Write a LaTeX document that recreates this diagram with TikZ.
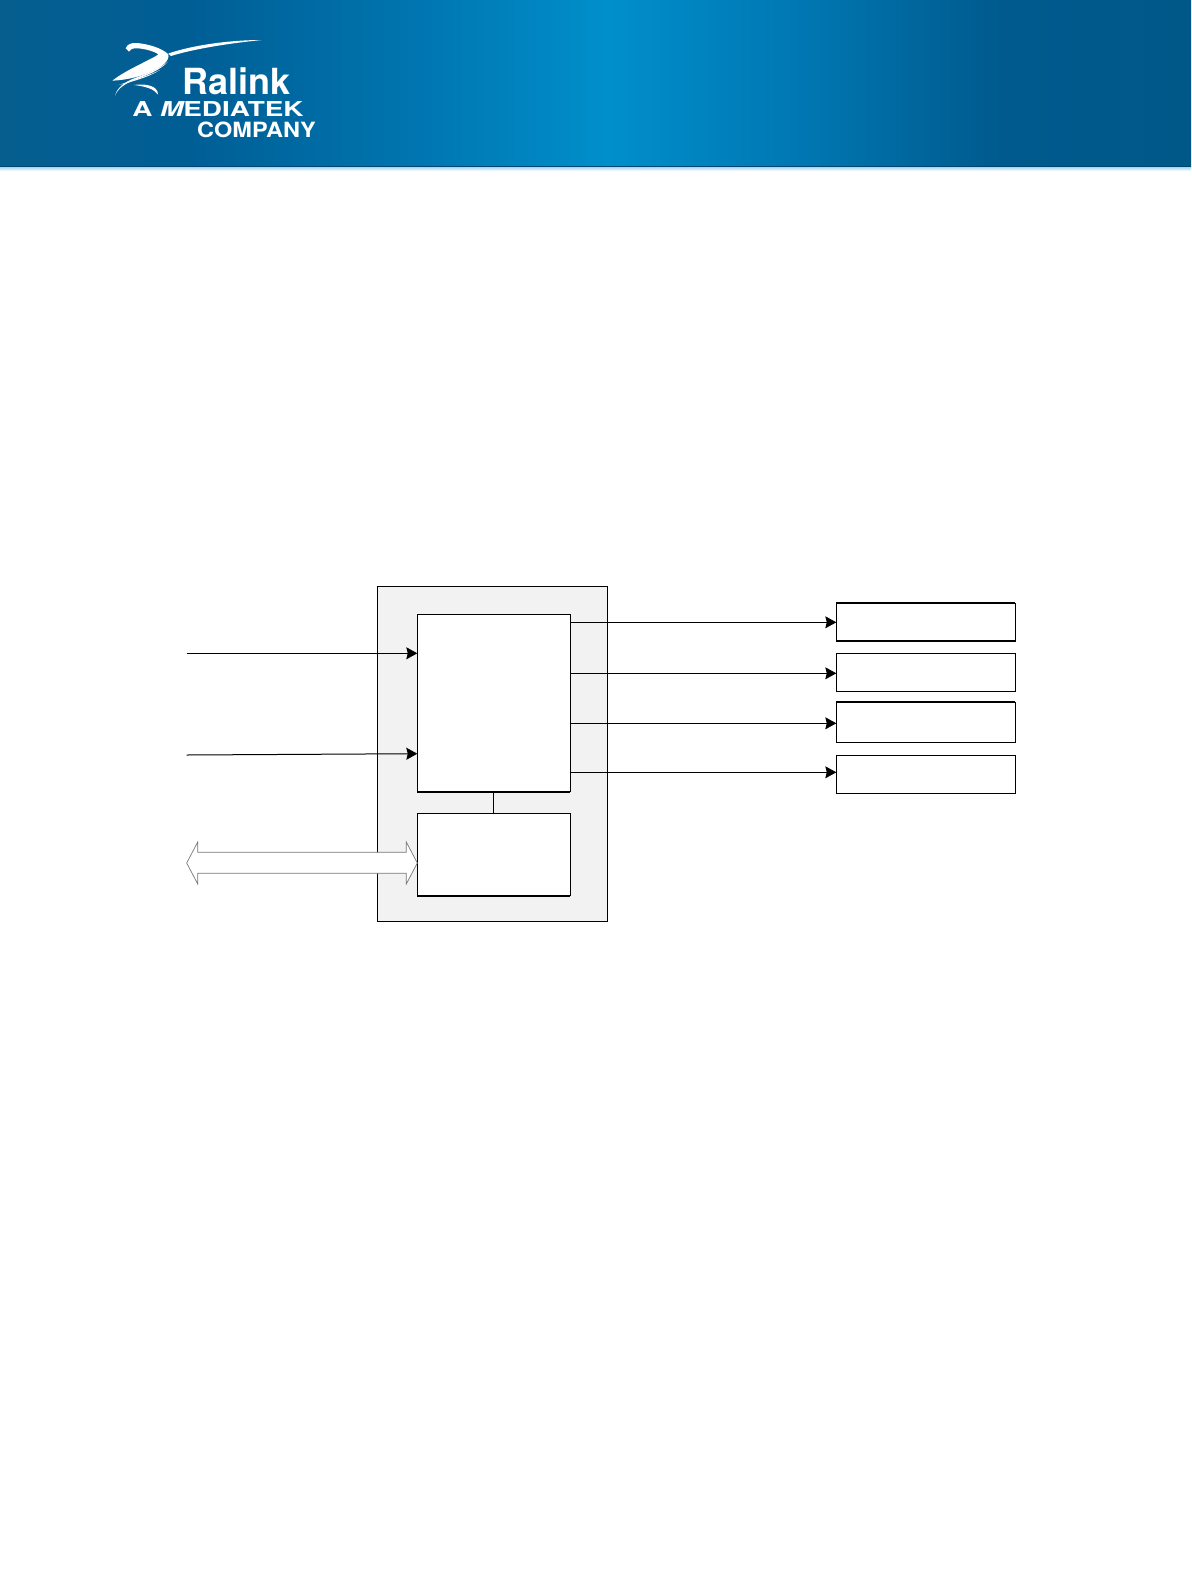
\documentclass[tikz,border=0pt]{standalone}
\usepackage{fontspec}
\setsansfont{TeX Gyre Heros}
\usetikzlibrary{arrows.meta,calc}
\definecolor{hdrleft}{RGB}{6,94,143}
\definecolor{hdrmidl}{RGB}{0,94,149}
\definecolor{hdrinl}{RGB}{0,116,174}
\definecolor{hdrpeak}{RGB}{0,143,203}
\definecolor{hdrinr}{RGB}{0,118,177}
\definecolor{hdrmidr}{RGB}{0,90,141}
\definecolor{hdrdark}{RGB}{0,88,137}
\definecolor{hdrlip}{RGB}{170,215,240}
\definecolor{blockgray}{RGB}{242,242,242}
\definecolor{busgray}{RGB}{120,120,120}
\pgfdeclarehorizontalshading{headerband}{100bp}{%
  color(0bp)=(hdrleft);
  color(25bp)=(hdrleft);
  color(33bp)=(hdrmidl);
  color(42bp)=(hdrinl);
  color(50.5bp)=(hdrpeak);
  color(59bp)=(hdrinr);
  color(67bp)=(hdrmidr);
  color(75bp)=(hdrdark);
  color(100bp)=(hdrdark)}
\tikzset{
  block/.style={draw, fill=white, line width=0.9pt, inner sep=0pt, outer sep=0pt, anchor=north west},
  sigline/.style={line width=0.8pt, -{Stealth[length=11pt,width=12pt,inset=1.5pt]}},
  logotext/.style={white, anchor=base west, inner sep=0pt, transform shape},
}

\begin{document}
\begin{tikzpicture}[x=1pt, y=-1pt, line join=miter]
\useasboundingbox (0,0) rectangle (1191,1584);

% ============ HEADER BAND ============
\shade[shading=headerband] (0,0) rectangle (1191,166.5);
\fill[hdrdark!80!black] (0,165.6) rectangle (1191,167.2);
\shade[top color=hdrlip, bottom color=white] (0,167.2) rectangle (1191,171);

% ============ LOGO ============
% long crescent
\fill[white] (262,40) .. controls (232,40) and (195,44.5) .. (168.3,53.5)
  -- (171,56) .. controls (195,48.5) and (232,43) .. (262,40) -- cycle;
% hook ribbon
\fill[white] (125.7,48.3) .. controls (127,44.5) and (131,42.5) .. (137,43) .. controls (148,44) and (162,48) .. (168.3,54.3)
  .. controls (170,60) and (162,67) .. (155,70) .. controls (143,76) and (128,80) .. (112.3,80.7)
  .. controls (122,73) and (135,67) .. (145,61.7) .. controls (151,58.5) and (156,56.5) .. (158.3,54.3)
  .. controls (154,51) and (142,48) .. (135,48.3) .. controls (131.5,48.5) and (130,50) .. (129,51.7) -- cycle;
% fine fronds
\fill[white] (115,95.7) .. controls (117,88) and (124,82) .. (135,78) .. controls (146,74) and (160,69) .. (168,61.7)
  .. controls (160,70.5) and (146,75.5) .. (136,79.5) .. controls (126,83) and (118,88) .. (115,95.7) -- cycle;
\fill[white] (119,85) .. controls (132,80) and (146,77) .. (160,70) .. controls (147,78) and (132,81.5) .. (119,85) -- cycle;
% lower arc
\fill[white] (134,85) .. controls (144,83.5) and (158,85) .. (158,94.5)
  .. controls (154,89) and (146,86.5) .. (134,85) -- cycle;

\node[logotext, font=\sffamily\bfseries\fontsize{36}{36}\selectfont] (ralink) at (182,94.5) {Ralink};
\begin{scope}[xscale=1.36]
  \node[logotext, font=\sffamily\bfseries\fontsize{20.5}{20.5}\selectfont] (mediatek) at (132/1.36,117) {A {\itshape M}EDIATEK};
\end{scope}
\begin{scope}[xscale=1.12]
  \node[logotext, font=\sffamily\bfseries\fontsize{21}{21}\selectfont] (company) at (197/1.12,137) {COMPANY};
\end{scope}

% ============ CONTROLLER BLOCKS ============
\node[block, fill=blockgray, minimum width=230pt, minimum height=335pt] (outerblk) at (377.3,586.3) {};
\node[block, minimum width=153pt, minimum height=177.4pt] (mainblk) at (417.3,614.3) {};
\node[block, minimum width=153pt, minimum height=82.4pt] (memblk) at (417.3,813.3) {};
\draw[line width=0.8pt] (mainblk.south) -- (memblk.north);

% ============ OUTPUT BLOCKS ============
\node[block, minimum width=179pt, minimum height=38pt] (regA) at (836.3,603) {};
\node[block, minimum width=179pt, minimum height=38pt] (regB) at (836.3,653.3) {};
\node[block, minimum width=179pt, minimum height=40.3pt] (regC) at (836.3,702) {};
\node[block, minimum width=179pt, minimum height=38pt] (regD) at (836.3,755.3) {};

% heavier edges
\foreach \edgefrom/\edgeto in {mainblk.south west/mainblk.south east, memblk.south west/memblk.south east,
    regA.north west/regA.north east, regA.south west/regA.south east, regC.north west/regC.north east}
  \draw[line width=1.7pt] (\edgefrom) -- (\edgeto);

\foreach \boxname/\y in {regA/622.3,regB/673.3,regC/723.3,regD/772.3}
  \draw[sigline] (mainblk.east |- 0,\y) -- (\boxname.west |- 0,\y);

% ============ INPUTS ============
\coordinate (inA) at (186.7,653.3);
\coordinate (inB) at (186.7,755);
\draw[sigline] (inA) -- (inA -| mainblk.west);
\draw[sigline, line width=1pt] (inB) -- (mainblk.west |- 0,753.7);

% ============ BUS ARROW ============
\coordinate (busL) at (186.7,863);
\draw[busgray, fill=white, line width=0.7pt] (busL) -- (197.7,842) -- (197.7,852.3) -- (406.3,852.3) -- (406.3,842)
  -- (busL -| memblk.west) -- (406.3,884) -- (406.3,873.3) -- (197.7,873.3) -- (197.7,884) -- cycle;
\end{tikzpicture}
\end{document}
